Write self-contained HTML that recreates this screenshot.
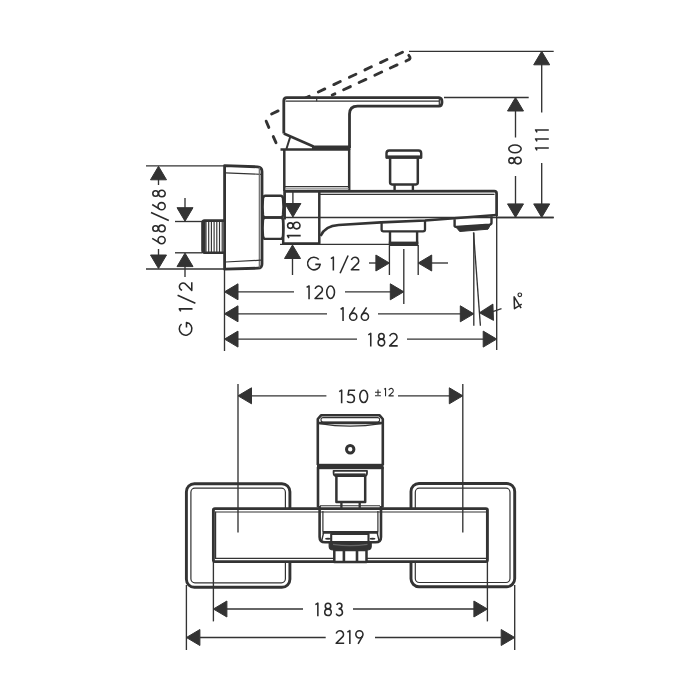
<!DOCTYPE html>
<html><head><meta charset="utf-8">
<style>
html,body{margin:0;padding:0;background:#fff;width:700px;height:700px;overflow:hidden}
svg{display:block}
text{font-family:"Liberation Sans",sans-serif;fill:#333}
</style></head>
<body>
<svg width="700" height="700" viewBox="0 0 700 700">
<defs>
<path id="ar" d="M0,0 L-13.5,-8 L-13.5,8 Z" fill="#333"/>
</defs>
<g fill="none" stroke="#333" stroke-linecap="butt" stroke-linejoin="round">

<!-- ========== SIDE VIEW ========== -->
<!-- 68/68 dimension -->
<g stroke-width="1.35">
<line x1="146" y1="165.9" x2="224" y2="165.9"/>
<line x1="146" y1="269" x2="224" y2="269"/>
<line x1="158.5" y1="179" x2="158.5" y2="185"/>
<line x1="158.5" y1="249" x2="158.5" y2="256"/>
<!-- G1/2 left -->
<line x1="175" y1="221.5" x2="202" y2="221.5"/>
<line x1="175" y1="252.8" x2="202" y2="252.8"/>
<line x1="185" y1="198" x2="185" y2="209"/>
<line x1="185" y1="265" x2="185" y2="277"/>
</g>
<use href="#ar" transform="translate(158.5,166.3) rotate(-90)"/>
<use href="#ar" transform="translate(158.5,268.5) rotate(90)"/>
<use href="#ar" transform="translate(185,221.2) rotate(90)"/>
<use href="#ar" transform="translate(185,253.1) rotate(-90)"/>

<!-- escutcheon side -->
<path d="M224.6,165.6 L257.5,166.8 Q262,167.2 262,171.5 L262,264 Q262,268 258,268.2 L224.6,269.2 Z" stroke-width="2.8"/>
<g stroke-width="1.2">
<line x1="225.5" y1="172.9" x2="261" y2="174.3"/>
<line x1="259.4" y1="167.5" x2="259.4" y2="267.5" stroke="#777" stroke-width="1.4"/>
<line x1="225.5" y1="262" x2="261" y2="260.2"/>
</g>
<!-- threaded nipple -->
<path d="M224.5,220.6 L204.5,220.6 Q202.5,220.6 202.5,223 L202.5,250.2 Q202.5,252.7 204.5,252.7 L224.5,252.7" stroke-width="2.6"/>
<rect x="202" y="221" width="3.6" height="31.5" rx="1.5" fill="#333" stroke="none"/>
<g stroke-width="1.15">
<line x1="206" y1="221" x2="206" y2="252"/>
<line x1="208.7" y1="221" x2="208.7" y2="252"/>
<line x1="211.4" y1="221" x2="211.4" y2="252"/>
<line x1="214.1" y1="221" x2="214.1" y2="252"/>
<line x1="216.8" y1="221" x2="216.8" y2="252"/>
<line x1="219.5" y1="221" x2="219.5" y2="252"/>
<line x1="222.2" y1="221" x2="222.2" y2="252"/>
</g>
<!-- hex nut -->
<path d="M265.3,195.7 L280.7,195.7 Q282.6,195.7 283,198.3 Q283.9,206.6 283,214.9 Q282.6,217.5 280.7,217.5 L265.3,217.5 Q263.4,217.5 263,214.9 Q262.1,206.6 263,198.3 Q263.4,195.7 265.3,195.7 Z" stroke-width="2.4"/>
<path d="M265.3,217.5 L280.7,217.5 Q282.6,217.5 283,220.1 Q283.9,228.2 283,236.3 Q282.6,238.9 280.7,238.9 L265.3,238.9 Q263.4,238.9 263,236.3 Q262.1,228.2 263,220.1 Q263.4,217.5 265.3,217.5 Z" stroke-width="2.4"/>
<!-- dashed lever -->
<g stroke-width="2.9" stroke-linecap="round">
<path d="M271.6,114.0 L278.1,110.9 M287.2,106.7 L293.7,103.6 M302.7,99.3 L309.2,96.2 M318.3,92.0 L324.8,88.9 M333.8,84.6 L340.3,81.5 M349.4,77.3 L355.9,74.2 M364.9,69.9 L371.4,66.8 M380.5,62.6 L387.0,59.5 M396.0,55.2 L402.5,52.2"/>
<path d="M390.3,68.0 L397.1,64.9 M374.8,75.2 L381.7,72.0 M359.1,82.5 L365.9,79.4 M343.6,89.7 L350.4,86.6 M332.2,95.0 L334.9,93.8"/>
<path d="M266.2,121.2 L268.8,127.4 M273.3,136.6 L276.0,142.7"/>
<path d="M408.8,55.4 Q411.5,58.6 408.5,59.8 L406,61"/>
</g>
<path d="M283.8,133.5 L283.8,100.8 Q283.8,97.9 286.8,97.9 L439,97.9 Q441.6,98 441.6,101.8 Q441.6,106 439,106 L357.5,105.9 Q349.5,106 349.5,114 L349.5,148 L315,148 Z" fill="#fff" stroke="none"/>
<!-- lever solid -->
<path d="M283.8,133.5 L283.8,100.8 Q283.8,97.7 286.8,97.7 L439,97.7 Q442,97.8 442,102 Q442,106.2 439,106.2 L357.5,106.2 Q349.5,106.3 349.5,114 L349.5,148" stroke-width="2.8"/>
<path d="M283.8,133.5 L313.5,146.5" stroke-width="2.5"/>
<path d="M312,145.6 L350.5,145.6 L350.5,150 L312,150 Z" fill="#333" stroke="none"/>
<line x1="280.5" y1="149.6" x2="350" y2="149.6" stroke-width="2.5"/>
<line x1="290.2" y1="137" x2="286.4" y2="149" stroke-width="2"/>
<line x1="285.5" y1="101.1" x2="439.3" y2="101.1" stroke-width="1.2"/>
<line x1="439.3" y1="99" x2="439.3" y2="105" stroke-width="1.2"/>
<line x1="316.7" y1="97.5" x2="316.7" y2="101.2" stroke-width="1.15"/>
<!-- lever base -->
<path d="M284.3,149.5 L284.3,191 M349.2,149.5 L349.2,190" stroke-width="2.5"/>
<line x1="285" y1="186.6" x2="349" y2="186.6" stroke-width="1.4"/>
<line x1="285" y1="188.9" x2="349" y2="188.9" stroke="#888" stroke-width="1.2"/>

<!-- spout -->
<path d="M284.6,191.4 L494.3,191.1 Q496.6,191.1 496.6,193.5 L496.6,216" stroke-width="2.7"/>
<line x1="320" y1="194.3" x2="494.5" y2="194.3" stroke-width="1.15"/>
<path d="M284.6,191 L284.6,219.5" stroke-width="2.7"/>
<path d="M283.2,219 L283.2,243.5 L319.3,243.5 L319.3,192" stroke-width="2.5"/>
<line x1="284" y1="217.5" x2="553.7" y2="217.5" stroke-width="1.35"/>
<path d="M320.5,236 Q325,225.8 338.6,225 L381,222.4 L425,220.5 L496.4,215" stroke-width="2.6"/>
<!-- diverter knob -->
<path d="M386.5,157.5 L386.5,153.2 Q386.5,150.5 389.2,150.5 L418.5,150.5 Q421.2,150.5 421.2,153.2 L421.2,157.5 Z" stroke-width="2.4"/>
<rect x="386" y="155.4" width="35.7" height="3.2" fill="#333" stroke="none"/>
<path d="M390.1,158 L390.1,182.6 Q390.1,184.4 392,184.4 L416,184.4 Q417.8,184.4 417.8,182.6 L417.8,158" stroke-width="2.5"/>
<path d="M394.6,184.5 L394.6,190.5 M412.9,184.5 L412.9,190.5" stroke-width="2.4"/>
<!-- diverter bottom -->
<path d="M381.6,223 L381.6,229.5 Q381.6,231.3 383.5,231.3 L423,231.3 Q425,231.3 425,229.5 L425,220.8" stroke-width="2.3"/>
<path d="M390,231.3 L390,244 M417.1,231.3 L417.1,244" stroke-width="2.4"/>
<rect x="388.8" y="241.6" width="29.5" height="4.4" fill="#333" stroke="none"/>
<!-- aerator -->
<path d="M454.6,219.2 L454.6,226 Q455,227 456.5,227 L489.5,224.6 Q491.5,224.4 491.5,222.8 L491.5,216.3" stroke-width="2.4"/>
<path d="M456,227 L490.5,224.6 L488,229.2 L459.7,231.5 Z" fill="#333" stroke-width="1"/>
<!-- 18 dimension -->
<g stroke-width="1.35">
<line x1="292.9" y1="192" x2="292.9" y2="205"/>
<line x1="292.5" y1="257" x2="292.5" y2="275"/>
<line x1="280" y1="244.4" x2="390" y2="244.4"/>
</g>
<use href="#ar" transform="translate(292.9,217) rotate(90)"/>
<use href="#ar" transform="translate(292.5,245) rotate(-90)"/>

<!-- G 1/2 right dim -->
<g stroke-width="1.35">
<line x1="389.4" y1="246" x2="389.4" y2="275"/>
<line x1="418.2" y1="245" x2="418.2" y2="275"/>
<line x1="369" y1="263" x2="377" y2="263"/>
<line x1="430" y1="263" x2="448" y2="263"/>
</g>
<use href="#ar" transform="translate(389.4,263)"/>
<use href="#ar" transform="translate(418.2,263) rotate(180)"/>

<!-- 80 / 111 -->
<g stroke-width="1.35">
<line x1="409" y1="51.3" x2="553.7" y2="51.3"/>
<line x1="444" y1="97.5" x2="528.7" y2="97.5"/>
<line x1="496" y1="217.5" x2="553.7" y2="217.5"/>
<line x1="541.7" y1="64" x2="541.7" y2="112.5"/>
<line x1="541.7" y1="163" x2="541.7" y2="205"/>
<line x1="515.5" y1="110" x2="515.5" y2="137.5"/>
<line x1="515.5" y1="176" x2="515.5" y2="205"/>
</g>
<use href="#ar" transform="translate(541.7,51.3) rotate(-90)"/>
<use href="#ar" transform="translate(515.5,97.5) rotate(-90)"/>
<use href="#ar" transform="translate(541.7,217.4) rotate(90)"/>
<use href="#ar" transform="translate(515.5,217.4) rotate(90)"/>

<!-- 120 / 166 / 182 -->
<g stroke-width="1.35">
<line x1="224.5" y1="269" x2="224.5" y2="351"/>
<line x1="403.8" y1="249" x2="403.8" y2="304"/>
<line x1="473.8" y1="232.5" x2="473.8" y2="325.7"/>
<line x1="473.5" y1="232.5" x2="480.4" y2="325.7"/>
<line x1="496.7" y1="216" x2="496.7" y2="350"/>
<line x1="238" y1="291.8" x2="294" y2="291.8"/>
<line x1="345" y1="291.8" x2="391" y2="291.8"/>
<line x1="238" y1="313.8" x2="327" y2="313.8"/>
<line x1="378" y1="313.8" x2="461" y2="313.8"/>
<line x1="238" y1="339.1" x2="357" y2="339.1"/>
<line x1="407" y1="339.1" x2="484" y2="339.1"/>
<line x1="492" y1="311.8" x2="501.5" y2="308.6"/>
</g>
<use href="#ar" transform="translate(224.5,291.8) rotate(180)"/>
<use href="#ar" transform="translate(403.8,291.8)"/>
<use href="#ar" transform="translate(224.5,313.8) rotate(180)"/>
<use href="#ar" transform="translate(473.8,313.8)"/>
<use href="#ar" transform="translate(479.7,312.7) rotate(178)"/>
<use href="#ar" transform="translate(224.5,339.1) rotate(180)"/>
<use href="#ar" transform="translate(496.7,339.1)"/>

<!-- ========== TOP VIEW ========== -->
<g stroke-width="1.35">
<line x1="238" y1="384" x2="238" y2="532.5"/>
<line x1="462.8" y1="384" x2="462.8" y2="532.5"/>
<line x1="251" y1="395.8" x2="326.4" y2="395.8"/>
<line x1="398" y1="395.8" x2="450" y2="395.8"/>
<line x1="213.4" y1="562" x2="213.4" y2="621.4"/>
<line x1="487.4" y1="562" x2="487.4" y2="621.4"/>
<line x1="186.4" y1="585" x2="186.4" y2="650"/>
<line x1="514.7" y1="585" x2="514.7" y2="650"/>
<line x1="226" y1="609" x2="303" y2="609"/>
<line x1="353" y1="609" x2="474" y2="609"/>
<line x1="200" y1="637.5" x2="325.7" y2="637.5"/>
<line x1="375" y1="637.5" x2="501" y2="637.5"/>
</g>
<use href="#ar" transform="translate(238,395.8) rotate(180)"/>
<use href="#ar" transform="translate(462.8,395.8)"/>
<use href="#ar" transform="translate(213.4,609) rotate(180)"/>
<use href="#ar" transform="translate(487.4,609)"/>
<use href="#ar" transform="translate(186.4,637.5) rotate(180)"/>
<use href="#ar" transform="translate(514.7,637.5)"/>

<!-- escutcheons -->
<rect x="186.4" y="483.7" width="103.5" height="103.6" rx="8" stroke-width="2.9"/>
<rect x="190.9" y="488.2" width="94.5" height="94.6" rx="4" stroke-width="1.2"/>
<rect x="411" y="483.5" width="103.7" height="103.2" rx="8" stroke-width="2.9"/>
<rect x="415.3" y="488.2" width="94.7" height="94.3" rx="4" stroke-width="1.2"/>
<!-- main body -->
<rect x="213.4" y="508.6" width="274" height="53" fill="#fff" stroke="none"/>
<rect x="213.4" y="508.6" width="274" height="53" rx="1.5" stroke-width="2.9"/>
<line x1="215" y1="512" x2="486" y2="512" stroke-width="1.2"/>
<line x1="215" y1="558.4" x2="486" y2="558.4" stroke-width="1.2"/>
<line x1="215.6" y1="511.8" x2="215.6" y2="558.4" stroke-width="1.2"/>
<line x1="238" y1="509" x2="238" y2="532.5" stroke-width="1.35"/>
<line x1="462.8" y1="509" x2="462.8" y2="532.5" stroke-width="1.35"/>

<!-- knob top view -->
<path d="M317.8,465 L317.8,419 L321,415.3 L379.6,415.3 L382.8,419 L382.8,465" stroke-width="2.6"/>
<rect x="321" y="417.6" width="58.6" height="4.4" rx="2" stroke-width="1.1"/>
<line x1="317.8" y1="423" x2="382.8" y2="423" stroke-width="2.4"/>
<path d="M319.5,423.6 Q350,428.8 381,423.6" stroke-width="1.3"/>
<rect x="317" y="463.8" width="66.6" height="5.4" fill="#333" stroke="none"/>
<circle cx="350.2" cy="449.3" r="3.7" stroke-width="3"/>
<path d="M318,467 L318,507.5 M382.5,467 L382.5,507.5" stroke-width="2.6"/>
<path d="M333.6,470.8 L367,470.8 L367,473 Q367,476 364,476 L336.6,476 Q333.6,476 333.6,473 Z" stroke-width="1.8"/>
<line x1="335" y1="475" x2="365.5" y2="475" stroke-width="3.2"/>
<path d="M336.4,476 L336.4,502 L365.2,502 L365.2,476" stroke-width="2.5"/>
<path d="M341.4,502 L341.4,508 M359.7,502 L359.7,508" stroke-width="2.3"/>

<!-- spout top view -->
<path d="M319.6,506 L319.6,537 Q319.6,542.3 325,542.3 L375.6,542.3 Q381,542.3 381,537 L381,506" stroke-width="2.6"/>
<line x1="320" y1="505.7" x2="380" y2="505.7" stroke-width="1.15"/>
<path d="M322.9,511 L322.9,531.5 M377.9,511 L377.9,531.5" stroke-width="1.2"/>
<line x1="322.5" y1="532.4" x2="378.3" y2="532.4" stroke-width="2.6"/>
<path d="M323.5,533 L321.8,540.5 M377.2,533 L379,540.5" stroke-width="1.35"/>
<ellipse cx="328" cy="538.8" rx="3" ry="1" fill="#333" stroke="none"/>
<ellipse cx="372.5" cy="538.8" rx="3" ry="1" fill="#333" stroke="none"/>
<rect x="331.2" y="534" width="37.3" height="8" fill="#fff" stroke-width="2.1"/>
<path d="M329.2,542.3 L371.2,542.3 L371.2,546.5 Q371.2,550 367,550 L333.4,550 Q329.2,550 329.2,546.5 Z" fill="#333" stroke-width="1.2"/>
<path d="M333,544.4 Q350,546.8 367.5,544.4" stroke="#666" stroke-width="1.2"/>
<rect x="334.3" y="550" width="32.2" height="12" fill="#fff" stroke-width="2.5"/>
<path d="M343.9,550.5 L343.9,561.5 M357,550.5 L357,561.5" stroke-width="2.6"/>
</g>

<!-- ========== TEXT ========== -->
<g fill="none" stroke="#2a2a2a" stroke-width="1.55" stroke-linecap="butt" stroke-linejoin="round">
<g transform="translate(306.90,270.40)"><path d="M11.9,-10.97 A6.33,6.33 0 1 0 13.32,-6.02 L8.4,-6.02"/></g>
<g transform="translate(330.60,270.40)"><path d="M0.3,-11.75 L2.75,-13.25 L2.75,0"/></g>
<g transform="translate(339.40,270.40)"><path d="M0.7,2.9 L8.7,-14.9"/></g>
<g transform="translate(350.60,270.40)"><path d="M0.83,-10.36 A3.7,3.7 0 1 1 7.6,-7.55 L0.75,-0.72 L8.8,-0.72"/></g>
<g transform="translate(306.30,299.20)"><path d="M0.3,-11.75 L2.75,-13.25 L2.75,0"/></g>
<g transform="translate(314.30,299.20)"><path d="M0.83,-10.36 A3.7,3.7 0 1 1 7.6,-7.55 L0.75,-0.72 L8.8,-0.72"/></g>
<g transform="translate(326.00,299.20)"><ellipse cx="4.6" cy="-6.92" rx="3.88" ry="6.2"/></g>
<g transform="translate(340.30,321.00)"><path d="M0.3,-11.75 L2.75,-13.25 L2.75,0"/></g>
<g transform="translate(348.90,321.00)"><path d="M6.0,-13.7 L1.2,-5.9"/><circle cx="4.3" cy="-4.3" r="3.58"/></g>
<g transform="translate(360.60,321.00)"><path d="M6.0,-13.7 L1.2,-5.9"/><circle cx="4.3" cy="-4.3" r="3.58"/></g>
<g transform="translate(368.00,346.60)"><path d="M0.3,-11.75 L2.75,-13.25 L2.75,0"/></g>
<g transform="translate(377.40,346.60)"><circle cx="4" cy="-10.35" r="2.75"/><circle cx="4" cy="-4.0" r="3.28"/></g>
<g transform="translate(388.90,346.60)"><path d="M0.83,-10.36 A3.7,3.7 0 1 1 7.6,-7.55 L0.75,-0.72 L8.8,-0.72"/></g>
<g transform="translate(338.90,403.30)"><path d="M0.3,-11.75 L2.75,-13.25 L2.75,0"/></g>
<g transform="translate(346.30,403.30)"><path d="M8.8,-13.1 L2.6,-13.1 L1.8,-8.2 C3.4,-9.3 8.1,-9.5 8.1,-4.6 C8.1,-1.6 6,-0.72 4.3,-0.72 C2.6,-0.72 1.4,-1.3 0.72,-2"/></g>
<g transform="translate(359.10,403.30)"><ellipse cx="4.6" cy="-6.92" rx="3.88" ry="6.2"/></g>
<g transform="translate(315.10,616.30)"><path d="M0.3,-11.75 L2.75,-13.25 L2.75,0"/></g>
<g transform="translate(324.00,616.30)"><circle cx="4" cy="-10.35" r="2.75"/><circle cx="4" cy="-4.0" r="3.28"/></g>
<g transform="translate(335.40,616.30)"><path d="M1.36,-11.36 A2.65,2.65 0 1 1 3.85,-7.8 L3.75,-7.35 A3.3,3.3 0 1 1 0.76,-2.66"/></g>
<g transform="translate(335.40,643.90)"><path d="M0.83,-10.36 A3.7,3.7 0 1 1 7.6,-7.55 L0.75,-0.72 L8.8,-0.72"/></g>
<g transform="translate(347.10,643.90)"><path d="M0.3,-11.75 L2.75,-13.25 L2.75,0"/></g>
<g transform="translate(355.10,643.90)"><circle cx="4.3" cy="-9.55" r="3.58"/><path d="M7.4,-7.7 L3.0,-0.1"/></g>
<g transform="translate(521.90,164.60) rotate(-90)"><circle cx="4" cy="-10.35" r="2.75"/><circle cx="4" cy="-4.0" r="3.28"/></g>
<g transform="translate(521.90,153.40) rotate(-90)"><ellipse cx="4.6" cy="-6.92" rx="3.88" ry="6.2"/></g>
<g transform="translate(548.80,150.65) rotate(-90)"><path d="M0.3,-11.75 L2.75,-13.25 L2.75,0"/></g>
<g transform="translate(548.80,141.65) rotate(-90)"><path d="M0.3,-11.75 L2.75,-13.25 L2.75,0"/></g>
<g transform="translate(548.80,132.65) rotate(-90)"><path d="M0.3,-11.75 L2.75,-13.25 L2.75,0"/></g>
<g transform="translate(165.90,244.40) rotate(-90)"><path d="M6.0,-13.7 L1.2,-5.9"/><circle cx="4.3" cy="-4.3" r="3.58"/></g>
<g transform="translate(165.90,232.40) rotate(-90)"><circle cx="4" cy="-10.35" r="2.75"/><circle cx="4" cy="-4.0" r="3.28"/></g>
<g transform="translate(165.90,221.20) rotate(-90)"><path d="M0.7,2.9 L8.7,-14.9"/></g>
<g transform="translate(165.90,210.50) rotate(-90)"><path d="M6.0,-13.7 L1.2,-5.9"/><circle cx="4.3" cy="-4.3" r="3.58"/></g>
<g transform="translate(165.90,197.50) rotate(-90)"><circle cx="4" cy="-10.35" r="2.75"/><circle cx="4" cy="-4.0" r="3.28"/></g>
<g transform="translate(192.50,335.90) rotate(-90)"><path d="M11.9,-10.97 A6.33,6.33 0 1 0 13.32,-6.02 L8.4,-6.02"/></g>
<g transform="translate(192.50,311.65) rotate(-90)"><path d="M0.3,-11.75 L2.75,-13.25 L2.75,0"/></g>
<g transform="translate(192.50,303.90) rotate(-90)"><path d="M0.7,2.9 L8.7,-14.9"/></g>
<g transform="translate(192.50,291.10) rotate(-90)"><path d="M0.83,-10.36 A3.7,3.7 0 1 1 7.6,-7.55 L0.75,-0.72 L8.8,-0.72"/></g>
<g transform="translate(300.70,229.60) rotate(-90)"><circle cx="4" cy="-10.35" r="2.75"/><circle cx="4" cy="-4.0" r="3.28"/></g>
<g transform="translate(300.70,238.35) rotate(-90)"><path d="M0.3,-11.75 L2.75,-13.25 L2.75,0"/></g>
<g transform="translate(519.5,305.5) rotate(-32) translate(-6.6,3)"><path d="M6.6,0 L6.6,-13.1 L0.72,-3.0 L9.2,-3.0"/></g>
<circle cx="519.8" cy="294.8" r="1.8" stroke-width="1.2"/>
<path d="M375,392.2 L380.9,392.2 M378,389.4 L378,394.9 M375,395.7 L380.9,395.7" stroke-width="1.1"/>
<g transform="translate(383.9,396.3) scale(0.6)" stroke-width="1.8"><path d="M0.3,-11.75 L2.75,-13.25 L2.75,0"/></g>
<g transform="translate(388.4,396.3) scale(0.6)" stroke-width="1.8"><path d="M0.83,-10.36 A3.7,3.7 0 1 1 7.6,-7.55 L0.75,-0.72 L8.8,-0.72"/></g>
</g>
</svg>
</body></html>
